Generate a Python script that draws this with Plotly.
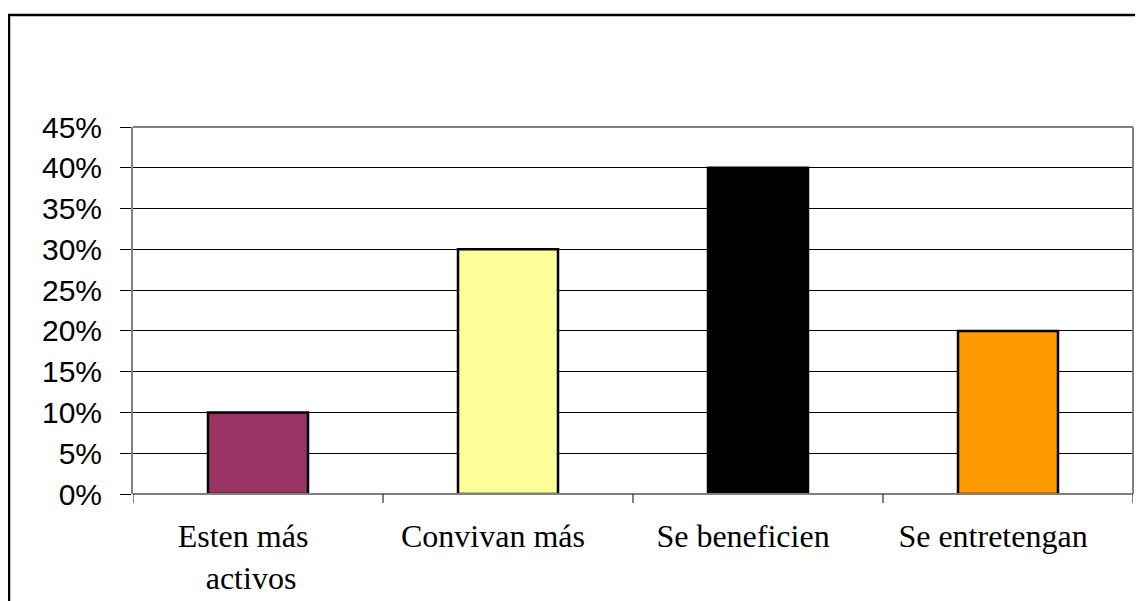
import plotly.graph_objects as go

categories = ["Esten más<br>\u00a0\u00a0activos", "Convivan más", "Se beneficien", "Se entretengan"]
values = [0.10, 0.30, 0.40, 0.20]
colors = ["#993366", "#FFFF99", "#000000", "#FF9900"]
tick_vals = [0, 0.05, 0.10, 0.15, 0.20, 0.25, 0.30, 0.35, 0.40, 0.45]
tick_text = ["0%", "5%", "10%", "15%", "20%", "25%", "30%", "35%", "40%", "45%"]

W, H = 1135, 593
L, R, T, B = 125, 10, 119, 107
PW = W - L - R
PH = H - T - B

fig = go.Figure()
fig.add_trace(go.Bar(
    x=list(range(len(categories))), y=values,
    marker=dict(color=colors, line=dict(color="#000000", width=2.5)),
    width=0.4, showlegend=False, hoverinfo="skip",
))

fig.update_layout(
    width=W, height=H,
    margin=dict(l=L, r=R, t=T, b=B),
    paper_bgcolor="white", plot_bgcolor="white",
)
fig.update_xaxes(
    range=[-0.5, 3.5], automargin=False,
    tickmode="array", tickvals=list(range(len(categories))), ticktext=categories,
    ticks="", showgrid=False, zeroline=False,
    ticklabelstandoff=20, ticklabelshift=-15,
    tickfont=dict(family="Liberation Serif, Times New Roman, serif", size=32, color="black"),
    showline=False,
)
fig.update_yaxes(
    range=[0, 0.45], automargin=False,
    tickmode="array", tickvals=tick_vals, ticktext=tick_text,
    ticks="outside", ticklen=11, tickcolor="black", tickwidth=1,
    ticklabelstandoff=12,
    showgrid=True, gridcolor="black", gridwidth=1,
    zeroline=False, showline=True, linecolor="#808080", linewidth=2,
    tickfont=dict(family="Liberation Sans, Arial, sans-serif", size=30, color="black"),
)

shapes = []
shapes.append(dict(type="line", xref="paper", yref="paper", x0=0, x1=1, y0=1, y1=1,
                   line=dict(color="#808080", width=2)))
shapes.append(dict(type="line", xref="paper", yref="paper", x0=1, x1=1, y0=0, y1=1,
                   line=dict(color="#808080", width=2)))
shapes.append(dict(type="line", xref="paper", yref="paper", x0=0, x1=1, y0=0, y1=0,
                   line=dict(color="#808080", width=2)))
for b in [-0.5, 0.5, 1.5, 2.5, 3.5]:
    shapes.append(dict(type="line", xref="x", yref="paper", x0=b, x1=b, y0=0, y1=-9 / PH,
                       line=dict(color="black", width=1)))
shapes.append(dict(type="rect", xref="paper", yref="paper",
                   x0=(1 - L) / PW, x1=(W + 30 - L) / PW,
                   y0=-(B + 30) / PH, y1=(PH + T - 7) / PH,
                   line=dict(color="black", width=2.5)))
fig.update_layout(shapes=shapes)

fig.write_html("out.html")
